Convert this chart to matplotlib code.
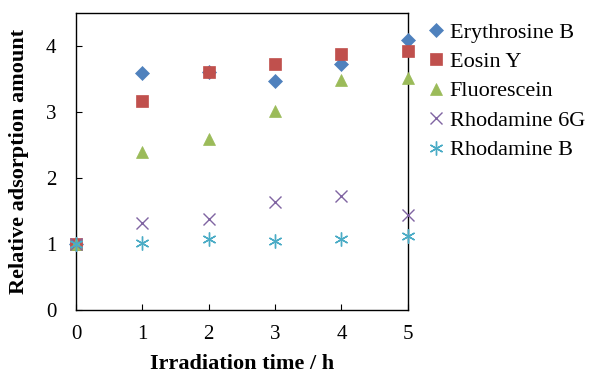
import matplotlib
matplotlib.use("Agg")
import matplotlib.pyplot as plt

plt.rcParams["font.family"] = ["Liberation Serif", "DejaVu Serif"]

hours = [0, 1, 2, 3, 4, 5]
erythrosine_b = [1.00, 3.59, 3.60, 3.47, 3.73, 4.09]
eosin_y = [1.00, 3.17, 3.61, 3.73, 3.88, 3.92]
fluorescein = [1.00, 2.39, 2.59, 3.02, 3.49, 3.52]
rhodamine_6g = [1.00, 1.32, 1.38, 1.63, 1.72, 1.44]
rhodamine_b = [1.00, 1.02, 1.08, 1.05, 1.08, 1.12]

series = [
    ("Erythrosine B", erythrosine_b, "D", "#4F81BD", 7),
    ("Eosin Y", eosin_y, "s", "#C0504D", 9),
    ("Fluorescein", fluorescein, "^", "#9BBB59", 9),
    ("Rhodamine 6G", rhodamine_6g, "x", "#8064A2", 9),
    ("Rhodamine B", rhodamine_b, (6, 2, 0), "#4BACC6", 10),
]

fig = plt.figure(figsize=(5.91, 3.76), dpi=100)
ax = fig.add_axes([0.1286, 0.1755, 0.5614, 0.79])

for name, vals, mk, col, ms in series:
    thin = mk == "x" or isinstance(mk, tuple)
    ax.plot(hours, vals, linestyle="none", marker=mk, color=col,
            markersize=ms, markeredgewidth=1.0 if thin else 0.5,
            label=name, clip_on=False, zorder=3)

ax.set_xlim(0, 5)
ax.set_ylim(0, 4.5)
ax.set_xticks(hours)
ax.set_yticks([0, 1, 2, 3, 4])
ax.tick_params(axis="x", direction="in", length=4, labelsize=15, pad=11)
ax.tick_params(axis="y", direction="in", length=4, labelsize=15, pad=14)
for sp in ax.spines.values():
    sp.set_linewidth(1.0)

ax.set_xlabel("Irradiation time / h", fontsize=16, fontweight="bold", labelpad=7)
ax.set_ylabel("Relative adsorption amount", fontsize=16, fontweight="bold", labelpad=12)

fig.legend(loc="upper left", bbox_to_anchor=(0.71, 0.965), frameon=False,
           fontsize=16, handlelength=0.7, handletextpad=0.25, labelspacing=0.4,
           borderaxespad=0)

fig.savefig("out.png", dpi=100)
